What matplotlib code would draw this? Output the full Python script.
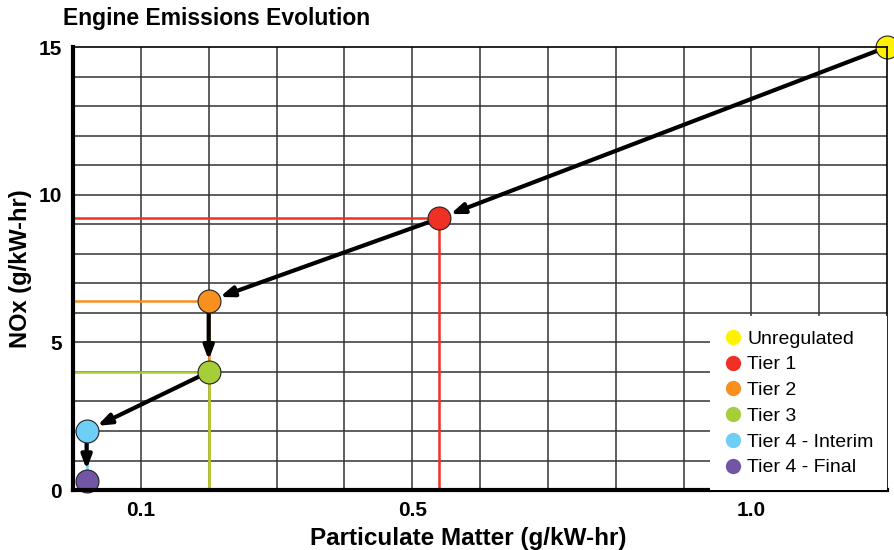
import matplotlib.pyplot as plt
from matplotlib.lines import Line2D

plt.rcParams['font.family'] = ['Liberation Sans', 'DejaVu Sans']

# emission standards
stages = ['Unregulated', 'Tier 1', 'Tier 2', 'Tier 3', 'Tier 4 - Interim', 'Tier 4 - Final']
pm = [1.2, 0.54, 0.2, 0.2, 0.02, 0.02]
nox = [15.0, 9.2, 6.4, 4.0, 2.0, 0.3]
colors = ['#FFF200', '#EE3124', '#F7901E', '#A6CE39', '#6DCFF6', '#7256A5']

fig = plt.figure(figsize=(8.95, 5.5), dpi=100)
ax = fig.add_axes([0.0816, 0.109, 0.9095, 0.8055])
ax.set_xlim(0, 1.2)
ax.set_ylim(0, 15)

# grid
for gx in [i / 10 for i in range(1, 12)]:
    ax.axvline(gx, color='#333333', lw=1.1, zorder=1)
for gy in range(1, 15):
    ax.axhline(gy, color='#333333', lw=1.1, zorder=1)

# guide lines from each point to the axes
for i in range(1, len(stages) - 1):
    ax.plot([0, pm[i]], [nox[i], nox[i]], color=colors[i], lw=1.8, zorder=2)
    ax.plot([pm[i], pm[i]], [0, nox[i]], color=colors[i], lw=1.8, zorder=2)

# arrows between stages
for i in range(len(stages) - 1):
    ax.annotate('', xy=(pm[i + 1], nox[i + 1]), xytext=(pm[i], nox[i]),
                arrowprops=dict(arrowstyle='-|>,head_length=0.8,head_width=0.3',
                                color='black', lw=3.0, shrinkA=8, shrinkB=8.5),
                zorder=3)

for i in range(len(stages)):
    ax.plot(pm[i], nox[i], 'o', ms=16.5, mfc=colors[i], mec='#222222', mew=0.8,
            zorder=4, clip_on=False)

for s in ['top', 'right']:
    ax.spines[s].set_linewidth(1.2)
for s in ['left', 'bottom']:
    ax.spines[s].set_linewidth(3)
for s in ax.spines.values():
    s.set_zorder(5)

ax.set_xticks([0.1, 0.5, 1.0])
ax.set_xticklabels(['0.1', '0.5', '1.0'])
ax.set_yticks([0, 5, 10, 15])
ax.tick_params(length=0, labelsize=15, pad=8)
for t in ax.get_xticklabels() + ax.get_yticklabels():
    t.set_fontweight('bold')

ax.set_xlabel('Particulate Matter (g/kW-hr)', fontsize=17.5, fontweight='bold', labelpad=5)
ax.xaxis.label.set_x(0.486)
ax.set_ylabel('NOx (g/kW-hr)', fontsize=17, fontweight='bold', labelpad=5)
fig.text(0.07, 0.955, 'Engine Emissions Evolution', fontsize=16.5, fontweight='bold')

handles = [Line2D([], [], marker='o', ls='', ms=11, mfc=c, mec='none') for c in colors]
leg = ax.legend(handles, stages, loc='lower right', bbox_to_anchor=(1.0, 0.0),
                borderaxespad=0, frameon=True, fancybox=False, fontsize=14,
                handletextpad=0.2, labelspacing=0.42, borderpad=0.7,
                handlelength=1.0)
leg.get_frame().set_edgecolor('none')
leg.get_frame().set_facecolor('white')
leg.get_frame().set_alpha(1)
leg.set_zorder(6)

fig.savefig('out.png', dpi=100)
